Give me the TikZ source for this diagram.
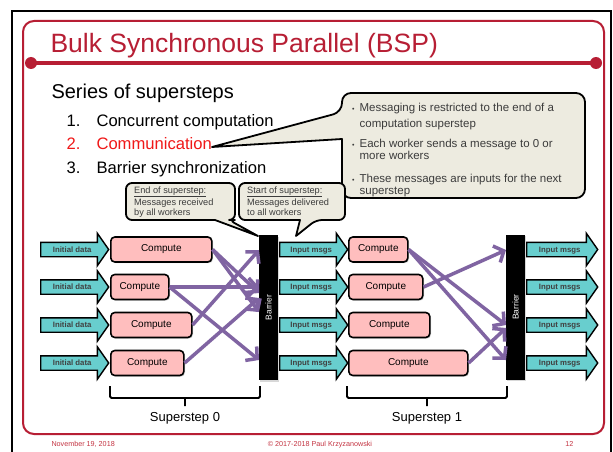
\documentclass[tikz,border=0pt]{standalone}
\usepackage{fontspec}
\setmainfont{Liberation Sans}
\usetikzlibrary{arrows.meta,shapes.arrows,shadows}
\definecolor{slidered}{RGB}{183,30,52}
\definecolor{itemred}{RGB}{240,24,24}
\definecolor{footred}{RGB}{196,52,66}
\definecolor{msgcyan}{RGB}{104,206,206}
\definecolor{computepink}{RGB}{255,190,190}
\definecolor{notebeige}{RGB}{237,235,224}
\definecolor{flowpurple}{RGB}{128,100,162}
\definecolor{notetext}{RGB}{60,60,60}

\begin{document}
\begin{tikzpicture}[x=1pt,y=-1pt,
  compute/.style={draw,line width=1.6pt,rounded corners=4pt,fill=computepink,minimum height=25pt,inner sep=0pt,font=\fontsize{10}{12}\selectfont,drop shadow={shadow xshift=1.2pt,shadow yshift=-1.2pt,opacity=.3}},
  msgarrow/.style={single arrow,draw,line width=1.4pt,fill=msgcyan,single arrow head extend=9pt,single arrow tip angle=110,minimum height=68pt,inner xsep=2pt,inner ysep=3pt,text height=6pt,text depth=1pt,font=\bfseries\fontsize{7.8}{9}\selectfont,text=black!75},
  barrier/.style={fill=black,minimum width=19pt,minimum height=145pt,inner sep=0pt,drop shadow={shadow xshift=1.2pt,shadow yshift=-1.5pt,opacity=.3}},
  barlabel/.style={rotate=90,text=white,inner sep=0pt,font=\fontsize{8.5}{10}\selectfont},
  flow/.style={draw=flowpurple,line width=3.5pt,-{Straight Barb[length=8pt,width=18pt]}},
  note/.style={draw,line width=1.8pt,fill=notebeige,line join=round},
  notetxt/.style={inner sep=0pt,text=notetext},
  foot/.style={text=footred,font=\fontsize{7.2}{9}\selectfont}
]
\useasboundingbox (0,0) rectangle (613,452);
\clip (0,0) rectangle (613,452);
\fill[white] (0,0) rectangle (613,452);
\draw[line width=1.6pt] (12,11) rectangle (611,470);
\draw[slidered,line width=2pt,rounded corners=11pt] (23,21) rectangle (604,434);
\draw[slidered,line width=3.5pt] (31,63) -- (596,63);
\fill[slidered] (31,63) circle (6) (596,63) circle (6);

\node[anchor=base west,text=slidered,font=\fontsize{26.5}{30}\selectfont] (title) at (47,53) {Bulk Synchronous Parallel (BSP)};
\node[anchor=base west,font=\fontsize{20}{24}\selectfont] (series) at (48,99) {Series of supersteps};
\foreach \n/\t/\y/\c in {1/Concurrent computation/126/black,2/Communication/149/itemred,3/Barrier synchronization/173/black}{
  \node[anchor=base west,text=\c,font=\fontsize{16.6}{20}\selectfont] (num\n) at (63,\y) {\n.};
  \node[anchor=base west,text=\c,font=\fontsize{16.6}{20}\selectfont] (item\n) at (93,\y) {\t};
}

\draw[note] (212,147) -- (342,139) [rounded corners=9pt] -- (342,198) -- (585,198) -- (585,93) -- (342,93) -- (342,112) [sharp corners] -- cycle;
\node[notetxt,anchor=base west,font=\fontsize{11.5}{12}\selectfont] (msgA) at (352,111) {\begin{tabular}[t]{@{}l@{\hspace{5pt}}l@{}}{\fontsize{7}{8}\selectfont •}&Messaging is restricted to the end of a\\[4pt] &computation superstep\end{tabular}};
\node[notetxt,anchor=base west,font=\fontsize{11.5}{12}\selectfont] (msgB) at (352,147) {\begin{tabular}[t]{@{}l@{\hspace{5pt}}l@{}}{\fontsize{7}{8}\selectfont •}&Each worker sends a message to 0 or\\ &more workers\end{tabular}};
\node[notetxt,anchor=base west,font=\fontsize{11.5}{12}\selectfont] (msgC) at (352,182) {\begin{tabular}[t]{@{}l@{\hspace{5pt}}l@{}}{\fontsize{7}{8}\selectfont •}&These messages are inputs for the next\\ &superstep\end{tabular}};

\draw[note] (258,236) -- (215,220) [rounded corners=6pt] -- (126,220) -- (126,183) -- (235,183) -- (235,220) -- (229,220) [sharp corners] -- cycle;
\draw[note] (296,236) -- (300,220) [rounded corners=6pt] -- (239,220) -- (239,183) -- (345,183) -- (345,220) -- (316,220) [sharp corners] -- cycle;
\node[notetxt,anchor=base west,font=\fontsize{9.2}{10}\selectfont] (endnote) at (134,193) {\begin{tabular}[t]{@{}l@{}}\underline{End of superstep:}\\[2.5pt] Messages received\\ by all workers\end{tabular}};
\node[notetxt,anchor=base west,font=\fontsize{9.2}{10}\selectfont] (startnote) at (247,193) {\begin{tabular}[t]{@{}l@{}}\underline{Start of superstep:}\\[2.5pt] Messages delivered\\ to all workers\end{tabular}};

\foreach \r/\y in {1/249.5,2/287,3/325,4/363}{
  \node[msgarrow,anchor=tail] (init\r) at (40,\y) {Initial data};
  \node[msgarrow,anchor=tail] (inA\r) at (279,\y) {Input msgs};
  \node[msgarrow,anchor=tail,minimum height=71pt] (inB\r) at (526,\y) {Input msgs};
}
\foreach \r/\y/\w in {1/249.5/101,2/287/58,3/325/81,4/363/73}
  \node[compute,anchor=west,minimum width=\w pt] (cA\r) at (110,\y) {Compute};
\foreach \r/\y/\w in {1/249.5/59,2/287/74,3/325/81,4/363/119}
  \node[compute,anchor=west,minimum width=\w pt] (cB\r) at (348,\y) {Compute};

\node[barrier] (bar0) at (268.5,307.5) {};
\node[barlabel] (bar0txt) at (bar0) {Barrier};
\node[barrier] (bar1) at (515.5,307) {};
\node[barlabel] (bar1txt) at (bar1) {Barrier};

\coordinate (s0p1) at (259,250);
\coordinate (s0p2) at (259,287);
\coordinate (s0p3) at (259,293);
\coordinate (s0p4) at (259,312);
\coordinate (s0p5) at (259,298);
\coordinate (s0p6) at (259,360);
\coordinate (s1p1) at (506,250);
\coordinate (s1p2) at (506,325);
\coordinate (s1p3) at (506,328);
\coordinate (s1p4) at (506,360);
\draw[flow] (cA1.east) -- (s0p3);
\draw[flow] (cA1.east) -- (s0p4);
\draw[flow] (cA2.east) -- (s0p2);
\draw[flow] (cA2.east) -- (s0p6);
\draw[flow] (cA3.east) -- (s0p1);
\draw[flow] (cA4.east) -- (s0p5);
\draw[flow] (cB1.east) -- (s1p2);
\draw[flow] (cB1.east) -- (s1p4);
\draw[flow] (cB2.east) -- (s1p1);
\draw[flow] (cB4.east) -- (s1p3);

\draw[line width=1.8pt,rounded corners=1.5pt] (110,386) -- (110,398) -- (260,398) -- (260,386) (185,398) -- (185,406);
\draw[line width=1.8pt,rounded corners=1.5pt] (347,386) -- (347,398) -- (507,398) -- (507,386) (427,398) -- (427,406);
\node[anchor=base,font=\fontsize{13}{15}\selectfont] (ss0) at (185,421) {Superstep 0};
\node[anchor=base,font=\fontsize{13}{15}\selectfont] (ss1) at (427,421) {Superstep 1};

\node[foot,anchor=base west] (date) at (48,446) {November 19, 2018};
\node[foot,anchor=base] (copy) at (320,446) {© 2017-2018 Paul Krzyzanowski};
\node[foot,anchor=base east] (page) at (577,446) {12};
\end{tikzpicture}
\end{document}
